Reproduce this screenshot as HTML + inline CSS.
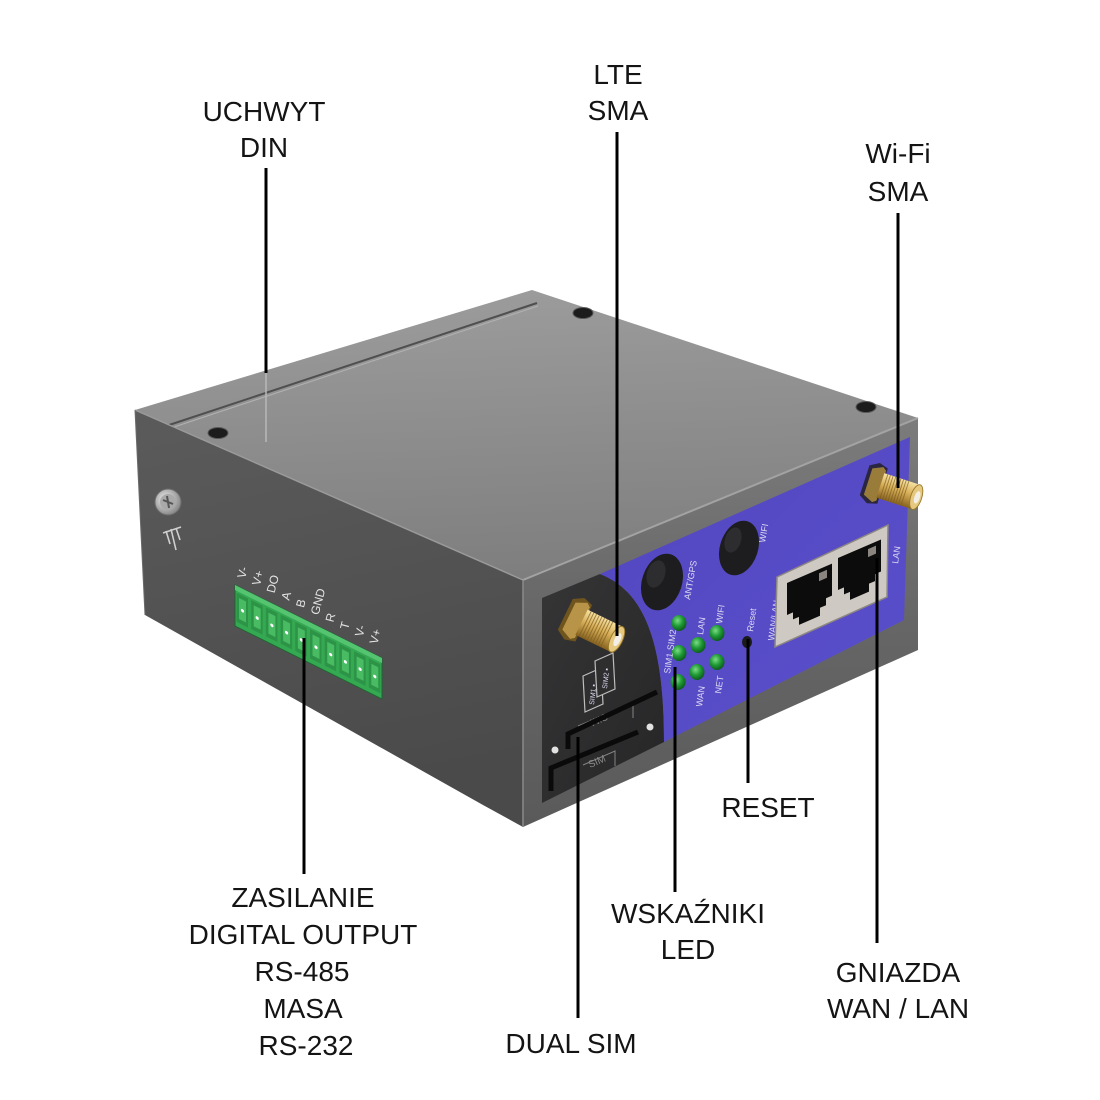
<!DOCTYPE html>
<html><head><meta charset="utf-8">
<style>
html,body{margin:0;padding:0;background:#fff;}
svg{display:block;}
.lbl{font-family:"Liberation Sans","DejaVu Sans",sans-serif;font-size:28px;fill:#141414;text-anchor:middle;}
.sm{font-family:"Liberation Sans","DejaVu Sans",sans-serif;fill:#dedcf2;}
.tb{font-family:"Liberation Sans","DejaVu Sans",sans-serif;font-size:12px;fill:#e4e4e4;}
</style></head><body>
<svg width="1100" height="1100" viewBox="0 0 1100 1100" xmlns="http://www.w3.org/2000/svg">
<defs>
 <linearGradient id="gTop" x1="0.3" y1="0" x2="0.4" y2="1">
   <stop offset="0" stop-color="#9c9c9c"/>
   <stop offset="1" stop-color="#7e7e7e"/>
 </linearGradient>
 <linearGradient id="gSide" x1="0" y1="0" x2="0.2" y2="1">
   <stop offset="0" stop-color="#5b5b5b"/>
   <stop offset="1" stop-color="#4a4a4a"/>
 </linearGradient>
 <linearGradient id="gFront" x1="0" y1="0" x2="0" y2="1">
   <stop offset="0" stop-color="#7c7c7c"/>
   <stop offset="0.5" stop-color="#666666"/>
   <stop offset="1" stop-color="#5a5a5a"/>
 </linearGradient>
 <linearGradient id="gBlue" x1="0" y1="0" x2="1" y2="1">
   <stop offset="0" stop-color="#5347c0"/>
   <stop offset="1" stop-color="#5a4fcb"/>
 </linearGradient>
 <linearGradient id="gDark" x1="0" y1="0" x2="1" y2="1">
   <stop offset="0" stop-color="#353536"/>
   <stop offset="1" stop-color="#262627"/>
 </linearGradient>
 <linearGradient id="gGold" x1="0" y1="0" x2="0" y2="1">
   <stop offset="0" stop-color="#f6e2a4"/>
   <stop offset="0.45" stop-color="#d8af58"/>
   <stop offset="1" stop-color="#86621f"/>
 </linearGradient>
 <radialGradient id="gLed" cx="0.4" cy="0.35" r="0.7">
   <stop offset="0" stop-color="#7ddc86"/>
   <stop offset="0.5" stop-color="#1f9a35"/>
   <stop offset="1" stop-color="#0c541a"/>
 </radialGradient>
 <radialGradient id="gScrew" cx="0.4" cy="0.4" r="0.6">
   <stop offset="0" stop-color="#f0f0f0"/>
   <stop offset="1" stop-color="#8a8a8a"/>
 </radialGradient>
</defs>

<rect width="1100" height="1100" fill="#fff"/>

<!-- ===== BOX ===== -->
<polygon points="135,410 532,290 918,418 523,580" fill="url(#gTop)"/>
<line x1="163" y1="427" x2="537" y2="303" stroke="#4f4f4f" stroke-width="2"/>
<line x1="165" y1="430" x2="538" y2="306" stroke="#b2b2b2" stroke-width="1"/>
<polygon points="135,410 523,580 523,827 483,805 145,615" fill="url(#gSide)"/>
<line x1="135" y1="410" x2="523" y2="580" stroke="#9a9a9a" stroke-width="1.5"/>
<line x1="135" y1="410" x2="145" y2="615" stroke="#6a6a6a" stroke-width="1"/>
<polygon points="523,580 918,418 918,650 523,827" fill="url(#gFront)"/>
<line x1="523" y1="580" x2="918" y2="418" stroke="#a3a3a3" stroke-width="2"/>
<line x1="523" y1="580" x2="523" y2="827" stroke="#8a8a8a" stroke-width="1.5"/>

<g fill="#1c1c1c" stroke="#5a5a5a" stroke-width="1">
 <ellipse cx="218" cy="433" rx="10" ry="5.5"/>
 <ellipse cx="583" cy="313" rx="10" ry="5.5"/>
 <ellipse cx="866" cy="407" rx="10" ry="5.5"/>
</g>
<circle cx="168" cy="502" r="13" fill="url(#gScrew)" stroke="#6d6d6d" stroke-width="1"/>
<circle cx="168" cy="502" r="8" fill="#a9a9a9"/>
<path d="M163,500 L173,504 M167,496 L169,508" stroke="#555" stroke-width="2"/>
<g stroke="#cfcfcf" stroke-width="1.6" fill="none">
 <path d="M163,533 L181,527"/>
 <path d="M166,531 L170,544 M171,529 L176,550 M176,528 L180,540"/>
</g>

<!-- terminal block -->
<g transform="matrix(1,0.497,0,1,235,585)">
 <rect x="0" y="0" width="147" height="41" fill="#35a852" stroke="#1d6530" stroke-width="1"/>
 <rect x="0" y="0" width="147" height="5" fill="#55c470"/>
 <g>
  <rect x="1.5" y="7" width="11.5" height="29" fill="#2c9347"/><rect x="4" y="11" width="7" height="21" fill="#48bb63"/><circle cx="7.5" cy="22" r="1.6" fill="#fff"/>
  <rect x="16.2" y="7" width="11.5" height="29" fill="#2c9347"/><rect x="18.7" y="11" width="7" height="21" fill="#48bb63"/><circle cx="22.2" cy="22" r="1.6" fill="#fff"/>
  <rect x="30.9" y="7" width="11.5" height="29" fill="#2c9347"/><rect x="33.4" y="11" width="7" height="21" fill="#48bb63"/><circle cx="36.9" cy="22" r="1.6" fill="#fff"/>
  <rect x="45.6" y="7" width="11.5" height="29" fill="#2c9347"/><rect x="48.1" y="11" width="7" height="21" fill="#48bb63"/><circle cx="51.6" cy="22" r="1.6" fill="#fff"/>
  <rect x="60.3" y="7" width="11.5" height="29" fill="#2c9347"/><rect x="62.8" y="11" width="7" height="21" fill="#48bb63"/><circle cx="66.3" cy="22" r="1.6" fill="#fff"/>
  <rect x="75" y="7" width="11.5" height="29" fill="#2c9347"/><rect x="77.5" y="11" width="7" height="21" fill="#48bb63"/><circle cx="81" cy="22" r="1.6" fill="#fff"/>
  <rect x="89.7" y="7" width="11.5" height="29" fill="#2c9347"/><rect x="92.2" y="11" width="7" height="21" fill="#48bb63"/><circle cx="95.7" cy="22" r="1.6" fill="#fff"/>
  <rect x="104.4" y="7" width="11.5" height="29" fill="#2c9347"/><rect x="106.9" y="11" width="7" height="21" fill="#48bb63"/><circle cx="110.4" cy="22" r="1.6" fill="#fff"/>
  <rect x="119.1" y="7" width="11.5" height="29" fill="#2c9347"/><rect x="121.6" y="11" width="7" height="21" fill="#48bb63"/><circle cx="125.1" cy="22" r="1.6" fill="#fff"/>
  <rect x="133.8" y="7" width="11.5" height="29" fill="#2c9347"/><rect x="136.3" y="11" width="7" height="21" fill="#48bb63"/><circle cx="139.8" cy="22" r="1.6" fill="#fff"/>
 </g>
</g>
<text class="tb" transform="translate(245,579) rotate(-75)">V-</text>
<text class="tb" transform="translate(259.7,586.3) rotate(-75)">V+</text>
<text class="tb" transform="translate(274.4,593.6) rotate(-75)">DO</text>
<text class="tb" transform="translate(289.1,600.9) rotate(-75)">A</text>
<text class="tb" transform="translate(303.8,608.2) rotate(-75)">B</text>
<text class="tb" transform="translate(318.5,615.5) rotate(-75)">GND</text>
<text class="tb" transform="translate(333.2,622.8) rotate(-75)">R</text>
<text class="tb" transform="translate(347.9,630.1) rotate(-75)">T</text>
<text class="tb" transform="translate(362.6,637.4) rotate(-75)">V-</text>
<text class="tb" transform="translate(377.3,644.7) rotate(-75)">V+</text>

<path d="M542,598 L600,574 C640,590 664,632 664,742 L542,803 Z" fill="url(#gDark)"/>
<path d="M600,574 L910,437 L904,620 L664,742 C664,632 640,590 600,574 Z" fill="url(#gBlue)"/>

<g fill="none" stroke="#bdbdbd" stroke-width="1.2">
 <polygon points="583,676 601,668 603,704 585,712"/>
 <polygon points="595,661 613,653 615,689 597,697" fill="#2e2e2f"/>
</g>
<text class="sm" font-size="7" transform="translate(594,705) rotate(-84)">SIM1 ▪</text>
<text class="sm" font-size="7" transform="translate(607,689) rotate(-84)">SIM2 ▪</text>

<g fill="none" stroke="#c0c0c0" stroke-width="1" opacity="0.6">
 <path d="M578,726 L633,703 L633,718"/>
 <path d="M583,765 L615,751 L615,766"/>
</g>
<text font-family="Liberation Sans,sans-serif" font-size="10" fill="#8a8a8a" transform="translate(606,713) rotate(157)">SIM</text>
<text font-family="Liberation Sans,sans-serif" font-size="10" fill="#8a8a8a" transform="translate(590,768) rotate(-23)">SIM</text>
<g fill="none" stroke="#0a0a0a" stroke-width="5" stroke-linejoin="miter">
 <path d="M568,749 L568,734 L657,692"/>
 <path d="M551,791 L551,768 L638,732"/>
</g>
<circle cx="555" cy="750" r="3.5" fill="#e2e2e2"/>
<circle cx="650" cy="727" r="3.5" fill="#e2e2e2"/>

<g transform="translate(577,620) rotate(26)">
 <polygon points="-13,-17 -3,-23 7,-20 8,20 -3,23 -13,17" fill="#6f541e"/>
 <polygon points="-9,-15 2,-20 6,-17 6,17 2,20 -9,15" fill="#b89448"/>
 <rect x="5" y="-14" width="39" height="28" fill="url(#gGold)"/>
 <g stroke="#7d5d20" stroke-width="1" opacity="0.7">
  <line x1="9" y1="-14" x2="9" y2="14"/><line x1="12" y1="-14" x2="12" y2="14"/><line x1="15" y1="-14" x2="15" y2="14"/>
  <line x1="18" y1="-14" x2="18" y2="14"/><line x1="21" y1="-14" x2="21" y2="14"/><line x1="24" y1="-14" x2="24" y2="14"/>
  <line x1="27" y1="-14" x2="27" y2="14"/><line x1="30" y1="-14" x2="30" y2="14"/><line x1="33" y1="-14" x2="33" y2="14"/>
 </g>
 <ellipse cx="44" cy="0" rx="6" ry="14" fill="#e6c97f" stroke="#9a7a2c" stroke-width="1"/>
 <ellipse cx="45" cy="0" rx="3" ry="7" fill="#f3efe6"/>
</g>

<g transform="translate(876,484) rotate(18) scale(0.92)">
 <polygon points="-13,-17 -3,-23 7,-20 8,20 -3,23 -13,17" fill="#2a2540"/>
 <polygon points="-9,-15 2,-20 6,-17 6,17 2,20 -9,15" fill="#9a7c3a"/>
 <rect x="5" y="-14" width="41" height="28" fill="url(#gGold)"/>
 <g stroke="#7d5d20" stroke-width="1" opacity="0.7">
  <line x1="9" y1="-14" x2="9" y2="14"/><line x1="12" y1="-14" x2="12" y2="14"/><line x1="15" y1="-14" x2="15" y2="14"/>
  <line x1="18" y1="-14" x2="18" y2="14"/><line x1="21" y1="-14" x2="21" y2="14"/><line x1="24" y1="-14" x2="24" y2="14"/>
  <line x1="27" y1="-14" x2="27" y2="14"/><line x1="30" y1="-14" x2="30" y2="14"/><line x1="33" y1="-14" x2="33" y2="14"/>
 </g>
 <ellipse cx="46" cy="0" rx="6" ry="14" fill="#e6c97f" stroke="#9a7a2c" stroke-width="1"/>
 <ellipse cx="47" cy="0" rx="3" ry="7" fill="#f3efe6"/>
</g>

<ellipse cx="662" cy="582" rx="20" ry="29" transform="rotate(18 662 582)" fill="#1d1d1f"/>
<ellipse cx="656" cy="574" rx="9" ry="14" transform="rotate(18 656 574)" fill="#2d2d30"/>
<ellipse cx="739" cy="548" rx="19" ry="28" transform="rotate(18 739 548)" fill="#1d1d1f"/>
<ellipse cx="733" cy="540" rx="8" ry="13" transform="rotate(18 733 540)" fill="#2d2d30"/>
<text class="sm" font-size="9" transform="translate(690,600) rotate(-80)">ANT/GPS</text>
<text class="sm" font-size="9" transform="translate(765,543) rotate(-80)">WIFI</text>

<g fill="url(#gLed)">
 <ellipse cx="679" cy="623" rx="7.5" ry="8"/>
 <ellipse cx="679" cy="653" rx="7.5" ry="8"/>
 <ellipse cx="678" cy="682" rx="7.5" ry="8"/>
 <ellipse cx="698" cy="645" rx="7.5" ry="8"/>
 <ellipse cx="697" cy="672" rx="7.5" ry="8"/>
 <ellipse cx="717" cy="633" rx="7.5" ry="8"/>
 <ellipse cx="717" cy="662" rx="7.5" ry="8"/>
</g>
<text class="sm" font-size="9" transform="translate(670,674) rotate(-82)">SIM1 SIM2</text>
<text class="sm" font-size="9" transform="translate(702,707) rotate(-82)">WAN</text>
<text class="sm" font-size="9" transform="translate(703,635) rotate(-82)">LAN</text>
<text class="sm" font-size="9" transform="translate(721,694) rotate(-82)">NET</text>
<text class="sm" font-size="9" transform="translate(722,624) rotate(-82)">WIFI</text>
<text class="sm" font-size="9" transform="translate(753,632) rotate(-82)">Reset</text>
<text class="sm" font-size="9" transform="translate(774,641) rotate(-82)">WAN/LAN</text>
<text class="sm" font-size="9" transform="translate(898,564) rotate(-82)">LAN</text>
<ellipse cx="747" cy="642" rx="5" ry="6" fill="#1a1a1a"/>

<polygon points="777,577 888,525 887,597 775,647" fill="#cfc9c3" stroke="#8e8882" stroke-width="1.5"/>
<g transform="matrix(1,-0.43,0,1,787,583)" fill="#0c0c0c">
 <polygon points="0,0 45,0 45,32 39,32 39,39 33,39 33,47 12,47 12,39 6,39 6,32 0,32"/>
 <rect x="32" y="4" width="8" height="8" fill="#8b8580"/>
</g>
<g transform="matrix(1,-0.43,0,1,838,558)" fill="#0c0c0c">
 <polygon points="0,0 43,0 43,32 37,32 37,39 31,39 31,47 12,47 12,39 6,39 6,32 0,32"/>
 <rect x="30" y="4" width="8" height="8" fill="#8b8580"/>
</g>

<!-- ===== CONNECTOR LINES ===== -->
<line x1="266" y1="372" x2="266" y2="442" stroke="#b8b8b8" stroke-width="1.5"/>
<g stroke="#000" stroke-width="3" fill="none">
 <line x1="266" y1="168" x2="266" y2="373"/>
 <line x1="617" y1="132" x2="617" y2="636"/>
 <line x1="898" y1="213" x2="898" y2="488"/>
 <line x1="304" y1="638" x2="304" y2="874"/>
 <line x1="578" y1="737" x2="578" y2="1018"/>
 <line x1="675" y1="667" x2="675" y2="892"/>
 <line x1="748" y1="639" x2="748" y2="783"/>
 <line x1="877" y1="558" x2="877" y2="943"/>
</g>

<!-- ===== LABELS ===== -->
<text class="lbl" x="264" y="121">UCHWYT</text>
<text class="lbl" x="264" y="157">DIN</text>
<text class="lbl" x="618" y="84">LTE</text>
<text class="lbl" x="618" y="120">SMA</text>
<text class="lbl" x="898" y="163">Wi-Fi</text>
<text class="lbl" x="898" y="201">SMA</text>
<text class="lbl" x="768" y="817">RESET</text>
<text class="lbl" x="688" y="923">WSKAŹNIKI</text>
<text class="lbl" x="688" y="959">LED</text>
<text class="lbl" x="898" y="982">GNIAZDA</text>
<text class="lbl" x="898" y="1018">WAN / LAN</text>
<text class="lbl" x="571" y="1053">DUAL SIM</text>
<text class="lbl" x="303" y="907">ZASILANIE</text>
<text class="lbl" x="303" y="944">DIGITAL OUTPUT</text>
<text class="lbl" x="302" y="981">RS-485</text>
<text class="lbl" x="303" y="1018">MASA</text>
<text class="lbl" x="306" y="1055">RS-232</text>
</svg>
</body></html>
